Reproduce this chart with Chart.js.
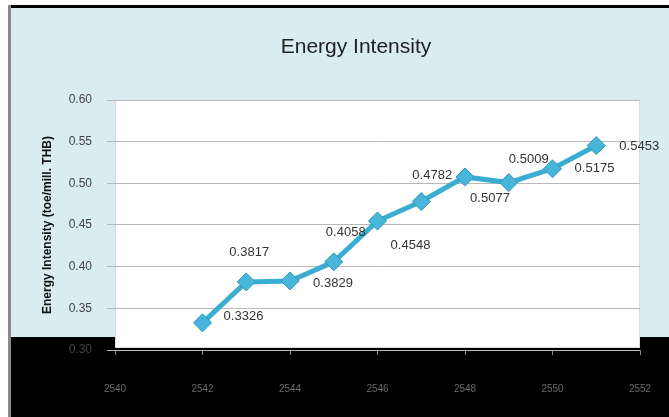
<!DOCTYPE html>
<html>
<head>
<meta charset="utf-8">
<script src="https://cdn.jsdelivr.net/npm/chart.js@4/dist/chart.umd.min.js"></script>
<style>
  html, body { margin: 0; padding: 0; background: #fff; }
  #wrap { width: 669px; height: 417px; }
</style>
</head>
<body>
<div id="wrap"><canvas id="intensityChart" width="669" height="417"></canvas></div>
<script>
// years (B.E.) and energy intensity, toe per million THB
const years = [2542, 2543, 2544, 2545, 2546, 2547, 2548, 2549, 2550, 2551];
const intensity = [0.3326, 0.3817, 0.3829, 0.4058, 0.4548, 0.4782, 0.5077, 0.5009, 0.5175, 0.5453];
const valueLabels = ["0.3326", "0.3817", "0.3829", "0.4058", "0.4548", "0.4782", "0.5077", "0.5009", "0.5175", "0.5453"];
const xTicks = [2540, 2542, 2544, 2546, 2548, 2550, 2552];
const yTicks = [0.30, 0.35, 0.40, 0.45, 0.50, 0.55, 0.60];

// where each value label sits relative to its point
const labelOffsets = [
  [41, -6], [3, -29], [43, 3], [12, -29], [33, 24],
  [11, -26], [25, 22], [20, -23], [42, 0], [43, 1],
];

const FONT = "'Liberation Sans', Arial, sans-serif";

const frame = {
  id: "frame",
  beforeDraw(chart) {
    const { ctx, width, height, chartArea: a } = chart;
    ctx.save();
    ctx.fillStyle = "#ffffff";
    ctx.fillRect(0, 0, width, height);
    // light blue panel
    ctx.fillStyle = "#d9ecf2";
    ctx.fillRect(10, 8, width - 10, 329);
    // black band at the bottom
    ctx.fillStyle = "#000000";
    ctx.fillRect(10, 337, width - 10, height - 337);
    // top rule and left edge
    ctx.fillRect(8, 5, width - 8, 3);
    ctx.fillStyle = "#8a8a8a";
    ctx.fillRect(8, 5, 3, height - 5);
    // plot area
    ctx.fillStyle = "#ffffff";
    ctx.fillRect(a.left, a.top, a.right - a.left, a.bottom - a.top - 3);
    ctx.strokeStyle = "#dcdcdc";
    ctx.lineWidth = 1;
    ctx.strokeRect(a.left + 0.5, a.top + 0.5, a.right - a.left - 1, a.bottom - a.top - 3);
    // chart title
    ctx.fillStyle = "#222222";
    ctx.font = "21px " + FONT;
    ctx.textAlign = "center";
    ctx.textBaseline = "middle";
    ctx.fillText("Energy Intensity", 356, 47);
    ctx.restore();
  },
  afterDatasetsDraw(chart) {
    const { ctx } = chart;
    const meta = chart.getDatasetMeta(0);
    ctx.save();
    ctx.font = "13px " + FONT;
    ctx.fillStyle = "#333333";
    ctx.textAlign = "center";
    ctx.textBaseline = "middle";
    meta.data.forEach((pt, i) => {
      const [dx, dy] = labelOffsets[i];
      ctx.fillText(valueLabels[i], pt.x + dx, pt.y + dy);
    });
    ctx.restore();
  },
};

new Chart(document.getElementById("intensityChart"), {
  type: "line",
  data: {
    datasets: [
      {
        data: years.map((y, i) => ({ x: y, y: intensity[i] })),
        borderColor: "#3aaed0",
        borderWidth: 5,
        tension: 0,
        pointStyle: "rectRot",
        pointRadius: 9,
        pointBackgroundColor: "#48b6da",
        pointBorderColor: "#2f96bb",
        pointBorderWidth: 1,
      },
    ],
  },
  options: {
    responsive: false,
    animation: false,
    layout: { padding: { left: 0, right: 29, top: 100, bottom: 0 } },
    plugins: {
      legend: { display: false },
      tooltip: { enabled: false },
      title: { display: false },
    },
    scales: {
      x: {
        type: "linear",
        min: 2540,
        max: 2552,
        afterFit: (s) => {
          s.height = 67;
          s.paddingLeft = 0;
          s.paddingRight = 0;
        },
        afterBuildTicks: (s) => {
          s.ticks = xTicks.map((v) => ({ value: v }));
        },
        border: { display: false },
        grid: { drawOnChartArea: false, tickLength: 5, color: "#8a8a8a" },
        ticks: {
          color: "#6a6a6a",
          padding: 28,
          maxRotation: 0,
          font: { family: FONT, size: 10 },
          callback: (v) => String(v),
        },
      },
      y: {
        min: 0.30,
        max: 0.60,
        afterFit: (s) => { s.width = 115; },
        afterBuildTicks: (s) => {
          s.ticks = yTicks.map((v) => ({ value: v }));
        },
        border: { display: false },
        grid: { color: "#b8b8b8", lineWidth: 1, tickLength: 8 },
        ticks: {
          color: "#444444",
          padding: 15,
          font: { family: FONT, size: 12 },
          callback: (v) => v.toFixed(2),
        },
        title: {
          display: true,
          text: "Energy Intensity (toe/mill. THB)",
          color: "#111111",
          font: { family: FONT, size: 12, weight: "bold" },
          padding: { top: 40, bottom: 0 },
        },
      },
    },
  },
  plugins: [frame],
});
</script>
</body>
</html>
